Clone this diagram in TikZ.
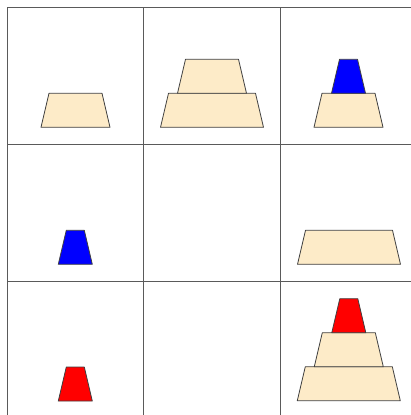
\documentclass[tikz,border=0pt]{standalone}
\definecolor{beige}{HTML}{FDEBC8}
\definecolor{gridc}{HTML}{5A5A5A}
\tikzset{
  gridline/.style={draw=gridc, line width=1pt},
  diskline/.style={draw=black!75, line width=0.8pt, line join=round}
}
\newcommand{\hdisk}[4]{% cx, bottom y, bottom width, colour
  \filldraw[diskline, fill=#4] (#1-#3/2,#2) -- (#1+#3/2,#2) -- (#1+#3/2-8,#2-34) -- (#1-#3/2+8,#2-34) -- cycle;}
\begin{document}
\begin{tikzpicture}[x=1pt,y=-1pt]
\useasboundingbox (0,0) rectangle (411,415);
\fill[white] (0,0) rectangle (411,415);
% grid
\foreach \gx in {7,143.5,280} \draw[gridline] (\gx,7) -- (\gx,415);
\foreach \gy in {7,144,281} \draw[gridline] (7,\gy) -- (411,\gy);
% row 1
\hdisk{75.5}{127.3}{69}{beige}
\hdisk{212}{127.3}{103}{beige}
\hdisk{212}{93.3}{69}{beige}
\hdisk{348.5}{127.3}{69}{beige}
\hdisk{348.5}{93.3}{34}{blue}
% row 2
\hdisk{75.3}{264.3}{34}{blue}
\hdisk{349}{264.3}{103}{beige}
% row 3
\hdisk{75.3}{401}{34}{red}
\hdisk{348.8}{400.7}{103}{beige}
\hdisk{348.8}{366.7}{69}{beige}
\hdisk{348.8}{332.7}{34}{red}
\end{tikzpicture}
\end{document}
